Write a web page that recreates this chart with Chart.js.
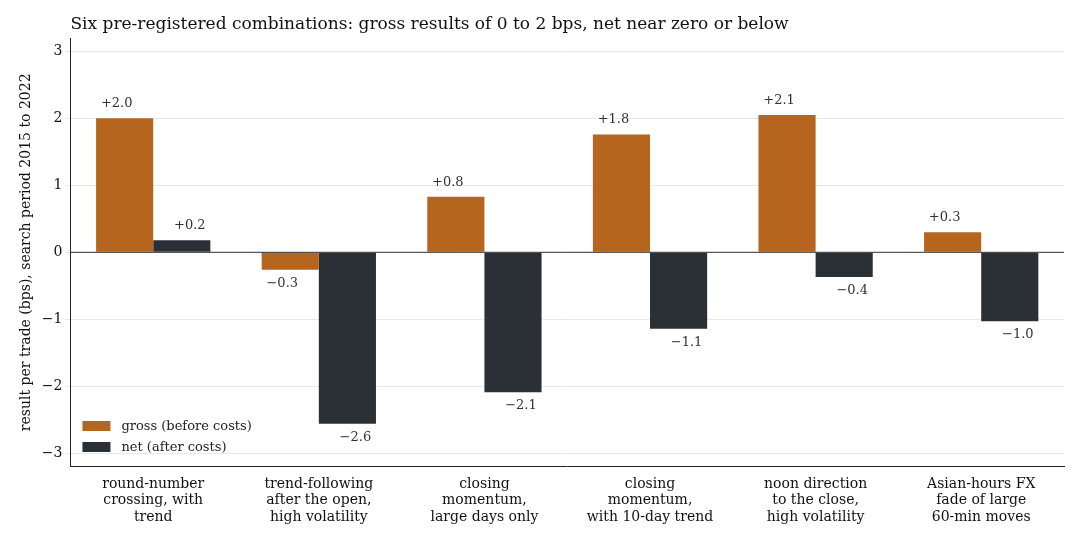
<!DOCTYPE html>
<html><head><meta charset="utf-8">
<script src="https://cdn.jsdelivr.net/npm/chart.js@4"></script>
<style>body{margin:0;background:#fff}#wrap{width:1080px;height:540px}</style>
</head><body><div id="wrap"><canvas id="c"></canvas></div>
<script>
const categories = [
  ["round-number", "crossing, with", "trend"],
  ["trend-following", "after the open,", "high volatility"],
  ["closing", "momentum,", "large days only"],
  ["closing", "momentum,", "with 10-day trend"],
  ["noon direction", "to the close,", "high volatility"],
  ["Asian-hours FX", "fade of large", "60-min moves"]
];
const gross = [2.0, -0.26, 0.83, 1.76, 2.05, 0.30];
const net = [0.18, -2.56, -2.09, -1.14, -0.37, -1.03];
const grossLabels = ["+2.0", "\u22120.3", "+0.8", "+1.8", "+2.1", "+0.3"];
const netLabels = ["+0.2", "\u22122.6", "\u22122.1", "\u22121.1", "\u22120.4", "\u22121.0"];
const title = "Six pre-registered combinations: gross results of 0 to 2 bps, net near zero or below";

const FONT = "'DejaVu Serif', serif";
Chart.defaults.font.family = FONT;
Chart.defaults.color = "#222";

const extras = {
  id: "extras",
  afterDatasetsDraw(chart) {
    const ctx = chart.ctx;
    ctx.save();
    ctx.font = "17px " + FONT;
    ctx.fillStyle = "#111"; ctx.textAlign = "left"; ctx.textBaseline = "middle";
    ctx.fillText(title, chart.chartArea.left, 25);
    ctx.font = "13px " + FONT;
    ctx.fillStyle = "#333";
    ctx.textAlign = "center";
    [[0, grossLabels, -8], [1, netLabels, 8]].forEach(([di, labs, dx]) => {
      chart.getDatasetMeta(di).data.forEach((bar, i) => {
        const v = chart.data.datasets[di].data[i];
        if (v >= 0) { ctx.textBaseline = "bottom"; ctx.fillText(labs[i], bar.x + dx, bar.y - 8); }
        else { ctx.textBaseline = "top"; ctx.fillText(labs[i], bar.x + dx, bar.y + 7); }
      });
    });
    const y0 = chart.scales.y.getPixelForValue(0);
    ctx.strokeStyle = "#333"; ctx.lineWidth = 1;
    ctx.beginPath(); ctx.moveTo(chart.chartArea.left, y0); ctx.lineTo(chart.chartArea.right, y0); ctx.stroke();
    const lx = chart.chartArea.left + 12, ly = 426;
    ctx.textAlign = "left"; ctx.textBaseline = "middle";
    [["#b5651d", "gross (before costs)"], ["#2b2f36", "net (after costs)"]].forEach(([c, t], k) => {
      ctx.fillStyle = c; ctx.fillRect(lx, ly + k * 21 - 5, 28, 10);
      ctx.fillStyle = "#222"; ctx.fillText(t, lx + 39, ly + k * 21 + 1);
    });
    ctx.restore();
  }
};

new Chart(document.getElementById("c"), {
  type: "bar",
  data: {
    labels: categories,
    datasets: [
      { label: "gross (before costs)", data: gross, backgroundColor: "#b5651d", categoryPercentage: 0.69, barPercentage: 1 },
      { label: "net (after costs)", data: net, backgroundColor: "#2b2f36", categoryPercentage: 0.69, barPercentage: 1 }
    ]
  },
  options: {
    responsive: true, maintainAspectRatio: false, animation: false,
    layout: { padding: { left: 14, right: 16, top: 38, bottom: 10 } },
    plugins: { legend: { display: false }, tooltip: { enabled: false } },
    scales: {
      x: { grid: { display: false, tickLength: 5 }, border: { color: "#222" },
        ticks: { font: { size: 14 }, color: "#111", maxRotation: 0, padding: 4 } },
      y: { min: -3.2, max: 3.2, afterBuildTicks: s => { s.ticks = [-3, -2, -1, 0, 1, 2, 3].map(v => ({ value: v })); },
        grid: { color: "#e8e8e8", tickLength: 5 }, border: { color: "#222" },
        ticks: { font: { size: 14 }, color: "#111", callback: v => v < 0 ? "\u2212" + Math.abs(v) : String(v) },
        title: { display: true, text: "result per trade (bps), search period 2015 to 2022", font: { size: 14 }, color: "#111" } }
    }
  },
  plugins: [extras]
});
</script></body></html>
